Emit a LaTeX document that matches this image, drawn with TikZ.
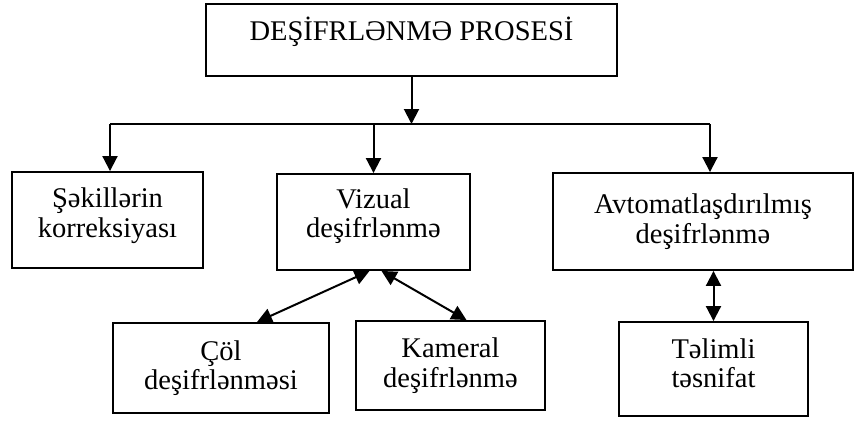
\documentclass[tikz,border=0pt]{standalone}
\usepackage{fontspec}
\setmainfont{Liberation Serif}
\usetikzlibrary{arrows.meta}
\begin{document}
\begin{tikzpicture}[x=1pt,y=-1pt,
  box/.style={draw, line width=1.9pt, inner sep=0pt, align=center, font=\fontsize{28.5}{29.5}\selectfont},
  conn/.style={line width=2pt},
  arr/.style={conn, -{Triangle[length=15pt,width=15pt]}},
  darr/.style={conn, {Triangle[length=15pt,width=15pt]}-{Triangle[length=15pt,width=15pt]}}]
\useasboundingbox (0,0) rectangle (855,423);
\node[box, minimum width=411pt, minimum height=72pt, text height=20pt, text depth=20pt] (top) at (411.5,40) {DEŞİFRLƏNMƏ PROSESİ};
\node[box, minimum width=191pt, minimum height=96pt, text depth=15pt] (sek) at (107.5,220) {Şəkillərin\\korreksiyası};
\node[box, minimum width=193pt, minimum height=96pt, text depth=18pt] (viz) at (373.5,222) {Vizual\\deşifrlənmə};
\node[box, minimum width=300pt, minimum height=97pt] (avt) at (703,221.5) {Avtomatlaşdırılmış\\deşifrlənmə};
\node[box, minimum width=216pt, minimum height=90pt] (col) at (221,368) {Çöl\\deşifrlənməsi};
\node[box, minimum width=189pt, minimum height=89pt] (kam) at (450.5,365.5) {Kameral\\deşifrlənmə};
\node[box, minimum width=189pt, minimum height=94pt, text depth=12pt] (tel) at (713.5,369) {Təlimli\\təsnifat};
\coordinate (hl) at (110,124);
\coordinate (hr) at (710,124);
\draw[conn] (hl) -- (hr);
\draw[arr] (top.south) -- (top.south |- hl);
\draw[arr] (hl) -- (hl |- sek.north);
\draw[arr] (viz.north |- hl) -- (viz.north);
\draw[arr] (hr) -- (hr |- avt.north);
\draw[darr] ([xshift=-4pt]viz.south) -- ([xshift=36pt]col.north);
\draw[darr] ([xshift=8pt]viz.south) -- ([xshift=16pt]kam.north);
\draw[darr] (tel.north |- avt.south) -- (tel.north);
\end{tikzpicture}
\end{document}
